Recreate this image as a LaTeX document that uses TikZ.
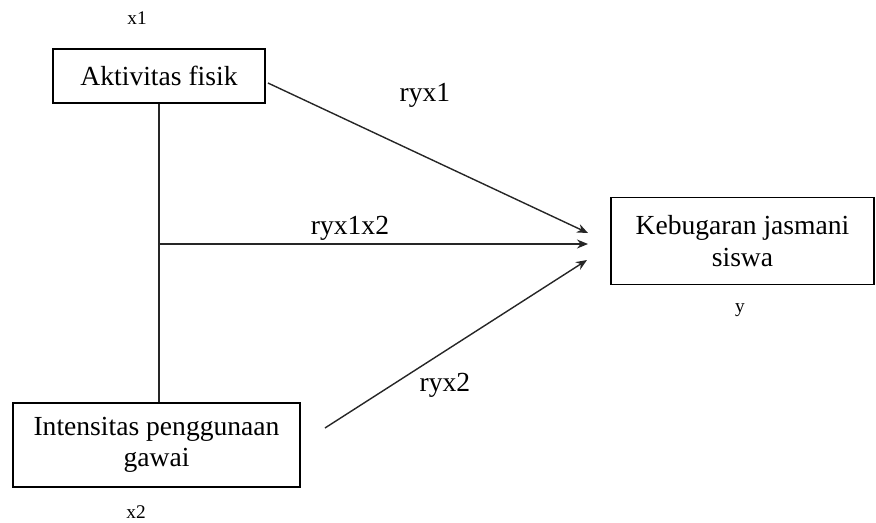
\documentclass[tikz,border=0pt]{standalone}
\usepackage{fontspec}
\setmainfont{Liberation Serif}
\usetikzlibrary{arrows.meta}
\usetikzlibrary{calc}

\tikzset{
    varbox/.style={draw, line width=1.1pt, align=center, font=\fontsize{15.7}{17.8}\selectfont},
    tag/.style={font=\fontsize{11}{13}\selectfont},
    coef/.style={font=\fontsize{15.7}{17.8}\selectfont},
    path/.style={draw=black!85, line width=0.8pt, -{Stealth[length=2.2mm,width=1.8mm]}}
}

\begin{document}
\begin{tikzpicture}
            \useasboundingbox (0,0) rectangle (17.52,-10.44);
            % variables
            \node[varbox, minimum width=4.24cm, minimum height=1.08cm] (X1) at (3.18,-1.52) {Aktivitas fisik};
            \node[varbox, minimum width=5.74cm, minimum height=1.68cm] (X2) at (3.13,-8.9) {Intensitas penggunaan\\gawai};
            \node[varbox, minimum width=5.26cm, minimum height=1.74cm] (Y) at (14.85,-4.82) {Kebugaran jasmani\\siswa};
            \node[tag] (tx1) at (2.74,-0.36) {x1};
            \node[tag] (tx2) at (2.72,-10.24) {x2};
            \node[tag] (ty) at (14.8,-6.2) {y};
            % end points in front of Y
            \coordinate (e1) at (11.76,-4.66);
            \coordinate (e12) at (11.76,-4.88);
            \coordinate (e2) at (11.74,-5.2);
            \coordinate (s1) at ($(X1.east)+(0.04,-0.14)$);
            \coordinate (s2) at ($(X2.east)+(0.48,0.34)$);
            \coordinate (j) at (3.18,-4.88);
            % paths
            \draw[draw=black!85, line width=0.8pt] (X1.south) -- (X1.south |- X2.north);
            \draw[path] (s1) -- (e1);
            \draw[path] (j) -- (e12);
            \draw[path] (s2) -- (e2);
            \node[coef] (r1) at (8.5,-1.9) {ryx1};
            \node[coef] (r12) at (7.0,-4.56) {ryx1x2};
            \node[coef] (r2) at (8.9,-7.7) {ryx2};
        \end{tikzpicture}
\end{document}
